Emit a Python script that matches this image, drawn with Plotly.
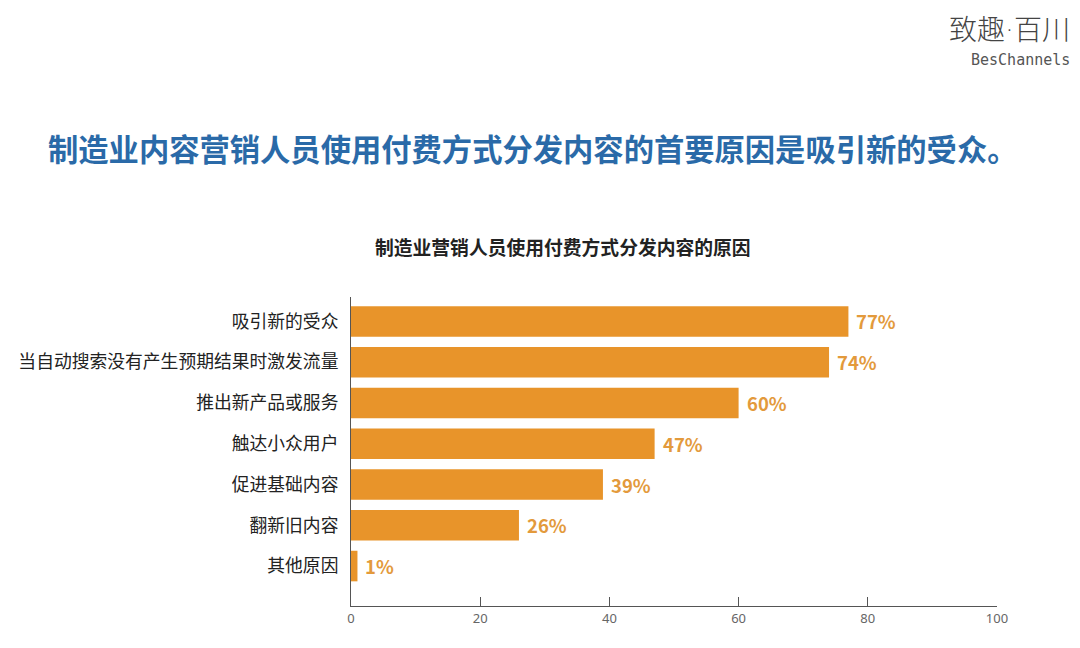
import plotly.graph_objects as go

categories = ["吸引新的受众", "当自动搜索没有产生预期结果时激发流量", "推出新产品或服务",
              "触达小众用户", "促进基础内容", "翻新旧内容", "其他原因"]
values = [77, 74, 60, 47, 39, 26, 1]
value_labels = ["77%", "74%", "60%", "47%", "39%", "26%", "1%"]
tick_vals = [0, 20, 40, 60, 80, 100]

CJK = "Noto Sans CJK SC, Noto Sans, sans-serif"
BAR = "#e8942a"
LABEL = "#e39a3c"

fig = go.Figure()
fig.add_trace(go.Bar(
    x=values, y=categories, orientation="h",
    marker=dict(color=BAR, line=dict(width=0)),
    hoverinfo="skip",
))

for cat, v, lab in zip(categories, values, value_labels):
    fig.add_annotation(x=v, y=cat, text=lab, xref="x", yref="y",
                       xanchor="left", yanchor="middle", xshift=6, showarrow=False,
                       font=dict(family=CJK, size=18.5, color=LABEL, weight="bold"))

fig.update_layout(
    width=1080, height=648,
    margin=dict(l=351, r=83, t=297, b=42),
    paper_bgcolor="white", plot_bgcolor="white",
    bargap=0.25, showlegend=False,
    xaxis=dict(range=[0, 100], tickvals=tick_vals, showgrid=False, zeroline=False,
               showline=True, linecolor="#555", linewidth=1,
               ticks="inside", ticklen=9, tickcolor="#555",
               tickfont=dict(family="Noto Sans, sans-serif", size=13, color="#666")),
    yaxis=dict(categoryorder="array", categoryarray=categories,
               range=[6.98, -0.6], showgrid=False, zeroline=False,
               showline=True, linecolor="#555", linewidth=1, ticks="",
               ticklabelstandoff=8,
               tickfont=dict(family=CJK, size=17.8, color="#222")),
    font=dict(family=CJK),
)

fig.add_annotation(text="制造业内容营销人员使用付费方式分发内容的首要原因是吸引新的受众。",
                   xref="paper", yref="paper", x=(46-351)/646, y=(606-148)/309,
                   xanchor="left", yanchor="middle", showarrow=False,
                   font=dict(family=CJK, size=30.3, color="#2a6aa8", weight="bold"))
fig.add_annotation(text="制造业营销人员使用付费方式分发内容的原因",
                   xref="paper", yref="paper", x=(563-351)/646, y=(606-247)/309,
                   xanchor="center", yanchor="middle", showarrow=False,
                   font=dict(family=CJK, size=18.8, color="#222", weight="bold"))
fig.add_annotation(text="致趣<span style=\"font-family:DejaVu Sans\">·</span>百川",
                   xref="paper", yref="paper", x=(1072-351)/646, y=(606-28)/309,
                   xanchor="right", yanchor="middle", showarrow=False,
                   font=dict(family=CJK, size=28, color="#444", weight=300))
fig.add_annotation(text="BesChannels",
                   xref="paper", yref="paper", x=(1072-351)/646, y=(606-60)/309,
                   xanchor="right", yanchor="middle", showarrow=False,
                   font=dict(family="DejaVu Sans Mono, monospace", size=15, color="#555"))

fig.write_html("out.html")
